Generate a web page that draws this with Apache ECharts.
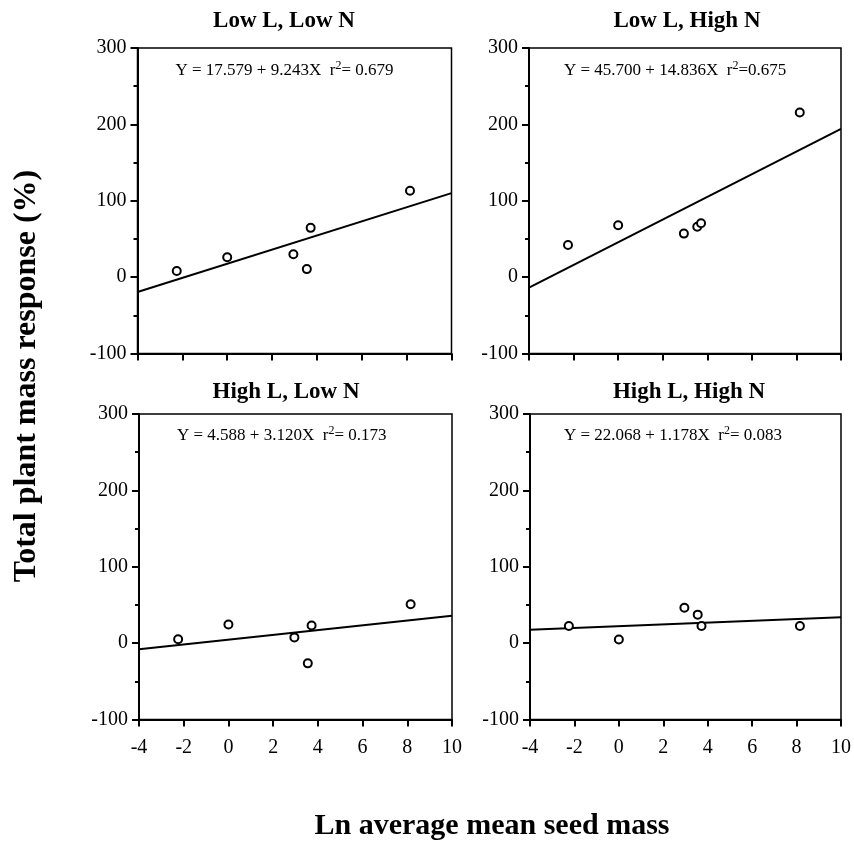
<!DOCTYPE html>
<html>
<head>
<meta charset="utf-8">
<script src="https://cdn.jsdelivr.net/npm/echarts@6/dist/echarts.min.js"></script>
<style>
html,body{margin:0;padding:0;background:#fff;}
#chart{width:854px;height:841px;}
</style>
</head>
<body>
<div id="chart"></div>
<script>
// ---- data ----
const panelTitles = ['Low L, Low N', 'Low L, High N', 'High L, Low N', 'High L, High N'];
const seedMass = [-2.25, 0, 2.95, 3.55, 3.72, 8.15];          // Ln average mean seed mass
const lowLlowN   = [8, 26, 30, 10.5, 64.5, 113];
const lowLhighN  = [42, 68, 57, 66, 70.5, 215.5];
const highLlowN  = [5, 24.5, 7.5, -26.5, 23, 51];
const highLhighN = [22.5, 4.7, 46.4, 37.3, 22.5, 22.5];
const intercepts = [17.579, 45.700, 4.588, 22.068];
const slopes     = [9.243, 14.836, 3.120, 1.178];
const r2Text     = ['= 0.679', '=0.675', '= 0.173', '= 0.083'];
const xRange = [-4, 10];
const yRange = [-100, 300];
const xTitle = 'Ln average mean seed mass';
const yTitle = 'Total plant mass response (%)';

const responses = [lowLlowN, lowLhighN, highLlowN, highLhighN];

// ---- layout ----
const FONT = '"Liberation Serif", "Times New Roman", Times, serif';
const grids = [
  {left: 137.5, top: 48, width: 314, height: 305.5},
  {left: 529, top: 48, width: 312, height: 305.5},
  {left: 139, top: 414, width: 313, height: 305.5},
  {left: 530, top: 414, width: 312, height: 305.5}
];
const titlePos = [[284, 10], [687, 10], [286, 381], [689, 381]];
const eqPos = [[175.5, 61.5], [564, 61.5], [177, 426.5], [564, 426.5]];

const option = {
  animation: false,
  backgroundColor: '#fff',
  grid: grids.map(g => Object.assign({show: true, borderColor: '#000', borderWidth: 1.5, backgroundColor: 'transparent'}, g)),
  title: [],
  xAxis: grids.map((g, i) => ({
    type: 'value', gridIndex: i, min: xRange[0], max: xRange[1], interval: 2,
    axisLine: {show: true, onZero: false, lineStyle: {color: '#000', width: 2}},
    axisTick: {show: true, length: 7, lineStyle: {color: '#000', width: 2}},
    axisLabel: {show: i >= 2, color: '#000', fontFamily: FONT, fontSize: 20, margin: 18},
    splitLine: {show: false}
  })),
  yAxis: grids.map((g, i) => ({
    type: 'value', gridIndex: i, min: yRange[0], max: yRange[1], interval: 100,
    axisLine: {show: true, onZero: false, lineStyle: {color: '#000', width: 2}},
    axisTick: {show: true, length: 7, lineStyle: {color: '#000', width: 2}},
    minorTick: {show: true, splitNumber: 2, length: 4, lineStyle: {color: '#000', width: 2}},
    axisLabel: {show: true, color: '#000', fontFamily: FONT, fontSize: 20, margin: 11},
    splitLine: {show: false}
  })),
  series: [],
  graphic: [
    {type: 'text', x: 492, y: 826, style: {text: xTitle, font: 'bold 30px ' + FONT, fill: '#000', align: 'center', verticalAlign: 'middle'}},
    {type: 'text', x: 27, y: 376, rotation: Math.PI / 2, style: {text: yTitle, font: 'bold 32px ' + FONT, fill: '#000', align: 'center', verticalAlign: 'middle'}}
  ]
};

for (let i = 0; i < 4; i++) {
  option.title.push({
    text: panelTitles[i], left: titlePos[i][0], top: titlePos[i][1], textAlign: 'center', padding: 0,
    textStyle: {fontFamily: FONT, fontSize: 23, fontWeight: 'bold', color: '#000'}
  });
  const a = intercepts[i].toFixed(3), b = slopes[i].toFixed(3);
  option.title.push({
    text: 'Y = ' + a + ' + ' + b + 'X  r{sup|2}' + r2Text[i],
    left: eqPos[i][0], top: eqPos[i][1], padding: 0,
    textStyle: {
      fontFamily: FONT, fontSize: 17, fontWeight: 'normal', color: '#000', lineHeight: 18,
      rich: {sup: {fontFamily: FONT, fontSize: 12, color: '#000', padding: [0, 0, 10, 0]}}
    }
  });
  option.series.push({
    type: 'line', xAxisIndex: i, yAxisIndex: i, symbol: 'none', silent: true,
    lineStyle: {color: '#000', width: 2},
    data: xRange.map(x => [x, intercepts[i] + slopes[i] * x]),
    z: 2
  });
  option.series.push({
    type: 'scatter', xAxisIndex: i, yAxisIndex: i, symbol: 'circle', symbolSize: 8,
    itemStyle: {color: '#fff', borderColor: '#000', borderWidth: 2, opacity: 1},
    data: seedMass.map((x, k) => [x, responses[i][k]]),
    z: 3
  });
}

const chart = echarts.init(document.getElementById('chart'), null, {renderer: 'canvas'});
chart.setOption(option);
</script>
</body>
</html>
